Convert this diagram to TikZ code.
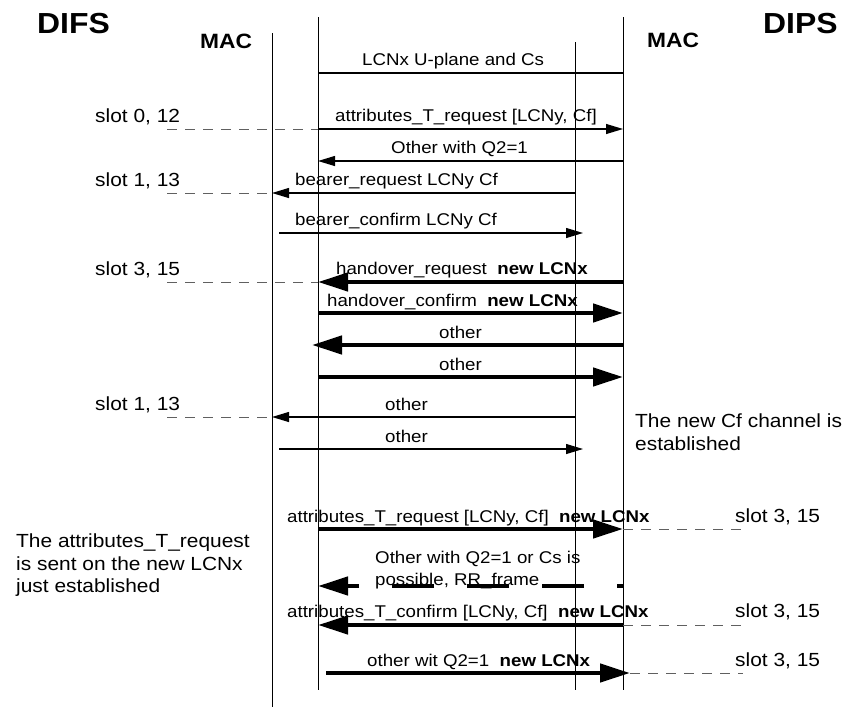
\documentclass[tikz,border=0pt]{standalone}
\usepackage{fontspec}
\setmainfont{Liberation Sans}[FakeStretch=1.1]
\usetikzlibrary{arrows.meta}
\definecolor{slotgray}{RGB}{96,96,96}
\tikzset{
  lifeline/.style={line width=1pt},
  plainmsg/.style={line width=1.1pt},
  thinmsg/.style={line width=1.1pt, -{Triangle[length=17pt,width=10pt]}},
  thickmsg/.style={line width=4.5pt, -{Triangle[length=30pt,width=18pt]}},
  slotline/.style={slotgray, line width=1pt, dash pattern=on 10pt off 8pt},
  lbl/.style={font=\fontsize{17}{20}\selectfont, inner sep=0pt, anchor=base west},
  sidetext/.style={font=\fontsize{19}{23}\selectfont, inner sep=0pt, anchor=base west},
  entity/.style={font=\bfseries\fontsize{29}{32}\selectfont, inner sep=0pt, anchor=base west},
  layer/.style={font=\bfseries\fontsize{20.7}{24}\selectfont, inner sep=0pt, anchor=base west}
}
\begin{document}
\begin{tikzpicture}[x=1pt,y=-1pt]
\useasboundingbox (0,0) rectangle (851,707);
% lifelines
\coordinate (Atop) at (272,33);  \coordinate (Abot) at (272,707);
\coordinate (Btop) at (318,17);  \coordinate (Bbot) at (318,690);
\coordinate (Ctop) at (575,42);  \coordinate (Cbot) at (575,690);
\coordinate (Dtop) at (623,17);  \coordinate (Dbot) at (623,690);
\foreach \l in {A,B,C,D}
  \draw[lifeline] (\l top) -- (\l bot);
% ends off the lifelines
\coordinate (Ain) at (279,0);
\coordinate (Bout) at (312,0);
\coordinate (Bin) at (326,0);
\coordinate (Cout) at (583,0);
\coordinate (Dout) at (630,0);
\coordinate (sl) at (167,0);
\coordinate (sr) at (743,0);
% message rows
\foreach \n/\y in {1/73,2/129,3/161,4/193,5/233,6/282,7/313,8/345,9/377,
                   10/417,11/449,12/529,13/586,14/625,15/673}
  \coordinate (r\n) at (0,\y);

\node[entity] (difs) at (37,33) {DIFS};
\node[entity] (dips) at (763,33) {DIPS};
\node[layer] (macl) at (200,48) {MAC};
\node[layer] (macr) at (647,47) {MAC};

\draw[plainmsg] (Btop |- r1) -- (Dtop |- r1);
\node[lbl] (lab1) at (362,65) {LCNx U-plane and Cs};

\node[sidetext] (slot2) at (95,122) {slot 0, 12};
\draw[slotline] (sl |- r2) -- (Btop |- r2);
\draw[thinmsg] (Btop |- r2) -- (Dtop |- r2);
\node[lbl] (lab2) at (335,121) {attributes\_T\_request [LCNy, Cf]};

\draw[thinmsg] (Dtop |- r3) -- (Btop |- r3);
\node[lbl] (lab3) at (391,153) {Other with Q2=1};

\node[sidetext] (slot4) at (95,186) {slot 1, 13};
\draw[slotline] (sl |- r4) -- (Atop |- r4);
\draw[thinmsg] (Ctop |- r4) -- (Atop |- r4);
\node[lbl] (lab4) at (295,185) {bearer\_request LCNy Cf};

\draw[thinmsg] (Ain |- r5) -- (Cout |- r5);
\node[lbl] (lab5) at (295,225) {bearer\_confirm LCNy Cf};

\node[sidetext] (slot6) at (95,275) {slot 3, 15};
\draw[slotline] (sl |- r6) -- (Btop |- r6);
\draw[thickmsg] (Dtop |- r6) -- (Btop |- r6);
\node[lbl] (lab6) at (336,274) {handover\_request\ \ \textbf{new LCNx}};

\draw[thickmsg] (Btop |- r7) -- (Dtop |- r7);
\node[lbl] (lab7) at (327,306) {handover\_confirm\ \ \textbf{new LCNx}};

\draw[thickmsg] (Dtop |- r8) -- (Bout |- r8);
\node[lbl] (lab8) at (439,338) {other};

\draw[thickmsg] (Btop |- r9) -- (Dtop |- r9);
\node[lbl] (lab9) at (439,370) {other};

\node[sidetext] (slot10) at (95,410) {slot 1, 13};
\draw[slotline] (sl |- r10) -- (Atop |- r10);
\draw[thinmsg] (Ctop |- r10) -- (Atop |- r10);
\node[lbl] (lab10) at (385,410) {other};

\draw[thinmsg] (Ain |- r11) -- (Cout |- r11);
\node[lbl] (lab11) at (385,442) {other};

\node[sidetext] (newcf1) at (635,427) {The new Cf channel is};
\node[sidetext] (newcf2) at (635,450) {established};

\draw[thickmsg] (Btop |- r12) -- (Dtop |- r12);
\draw[slotline] (Dtop |- r12) -- (sr |- r12);
\node[lbl] (lab12) at (287,522) {attributes\_T\_request [LCNy, Cf]\ \ \textbf{new LCNx}};
\node[sidetext] (slot12) at (735,522) {slot 3, 15};

\draw[thickmsg, dash pattern=on 42pt off 33pt, dash phase=36pt] (Dtop |- r13) -- (Btop |- r13);
\node[lbl] (lab13a) at (375,563) {Other with Q2=1 or Cs is};
\node[lbl] (lab13b) at (375,585) {possible, RR\_frame};

\draw[thickmsg] (Dtop |- r14) -- (Btop |- r14);
\draw[slotline] (Dtop |- r14) -- (sr |- r14);
\node[lbl] (lab14) at (287,617) {attributes\_T\_confirm [LCNy, Cf]\ \ \textbf{new LCNx}};
\node[sidetext] (slot14) at (735,617) {slot 3, 15};

\draw[thickmsg] (Bin |- r15) -- (Dout |- r15);
\draw[slotline] (Dout |- r15) -- (sr |- r15);
\node[lbl] (lab15) at (367,666) {other wit Q2=1\ \ \textbf{new LCNx}};
\node[sidetext] (slot15) at (735,666) {slot 3, 15};

\node[sidetext] (note1) at (16,547) {The attributes\_T\_request};
\node[sidetext] (note2) at (16,570) {is sent on the new LCNx};
\node[sidetext] (note3) at (16,592) {just established};
\end{tikzpicture}
\end{document}
